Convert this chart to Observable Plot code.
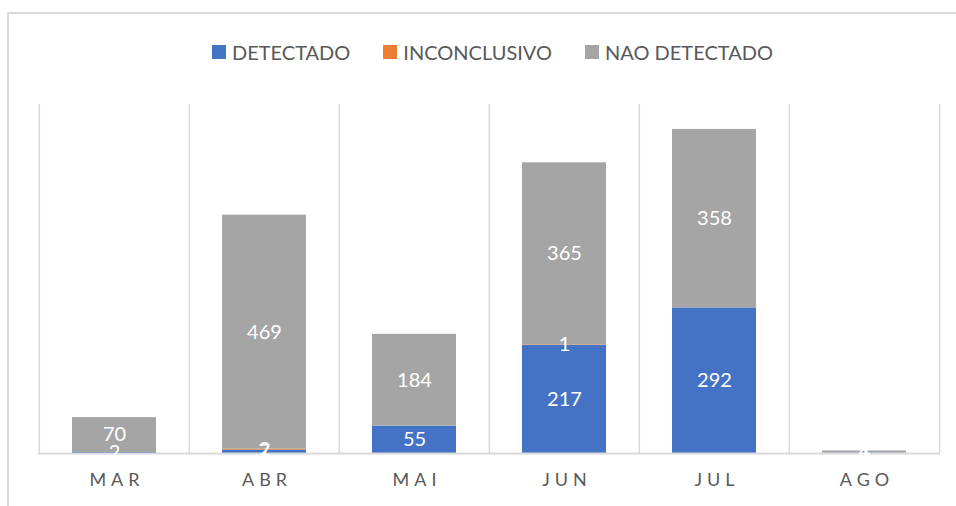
<!DOCTYPE html>
<html><head><meta charset="utf-8">
<script src="https://cdn.jsdelivr.net/npm/d3@7"></script>
<script src="https://cdn.jsdelivr.net/npm/@observablehq/plot@0.6"></script>
<style>
html,body{margin:0;padding:0;background:#fff;overflow:hidden;}
body{width:956px;height:506px;position:relative;font-family:Lato,"Open Sans",sans-serif;}
#frame{position:absolute;left:7px;top:12px;width:1100px;height:700px;border:2px solid #d9d9d9;box-sizing:border-box;}
#legend{position:absolute;left:212px;top:40px;height:24px;display:flex;align-items:center;font-size:20px;color:#595959;white-space:nowrap;}
#legend .item{display:flex;align-items:center;margin-right:33px;}
#legend .sw{width:14px;height:14px;margin-right:6px;}
#chart{position:absolute;left:0;top:90px;}
#chart svg g[aria-label="x-axis tick label"] text{letter-spacing:5px;}
</style>
</head><body>
<div id="frame"></div>
<div id="legend"></div>
<div id="chart"></div>
<script>
const months = ["MAR","ABR","MAI","JUN","JUL","AGO"];
const detectado = [2,7,55,217,292,1];
const inconclusivo = [0,2,0,1,0,0];
const naoDetectado = [70,469,184,365,358,4];
const seriesNames = ["DETECTADO","INCONCLUSIVO","NAO DETECTADO"];
const seriesColors = ["#4472C4","#ED7D31","#A5A5A5"];

const seriesValues = [detectado, inconclusivo, naoDetectado];
const data = [];
months.forEach((m,i)=>{
  seriesNames.forEach((s,j)=>{
    data.push({month:m, series:s, value:seriesValues[j][i]});
  });
});

// legend
const leg = document.getElementById("legend");
seriesNames.forEach((s,j)=>{
  const it = document.createElement("div"); it.className="item";
  const sw = document.createElement("div"); sw.className="sw"; sw.style.background=seriesColors[j];
  const tx = document.createElement("span"); tx.textContent=s;
  it.appendChild(sw); it.appendChild(tx); leg.appendChild(it);
});

const W = 956, H = 416;
const mL = 38, mR = 16;
const step = (W - mL - mR) / months.length;
const stackOpts = {x:"month", y:"value", z:"series", order: seriesNames};

const plot = Plot.plot({
  width: W, height: H,
  marginLeft: mL, marginRight: mR, marginTop: 14, marginBottom: 53,
  style: {fontFamily: "Lato, 'Open Sans', sans-serif", background: "transparent"},
  x: {domain: months, paddingInner: 0.44, paddingOuter: 0.22, label: null},
  y: {domain: [0, 700], axis: null},
  color: {domain: seriesNames, range: seriesColors},
  marks: [
    Plot.ruleX(months, {x: d=>d, dx: -step/2, stroke: "#d9d9d9", strokeWidth: 1.5}),
    Plot.ruleX([months[months.length-1]], {x: d=>d, dx: step/2, stroke: "#d9d9d9", strokeWidth: 1.5}),
    Plot.barY(data, Plot.stackY({...stackOpts, fill: "series"})),
    Plot.ruleY([0], {stroke: "#d9d9d9", strokeWidth: 2}),
    Plot.text(data, Plot.stackY({...stackOpts, text: d => d.value > 0 ? String(d.value) : "", fill: "white", fontSize: 20})),
    Plot.axisX({tickSize: 0, tickPadding: 20, fontSize: 18, fill: "#595959", dx: 2.5})
  ]
});
document.getElementById("chart").appendChild(plot);
</script>
</body></html>
